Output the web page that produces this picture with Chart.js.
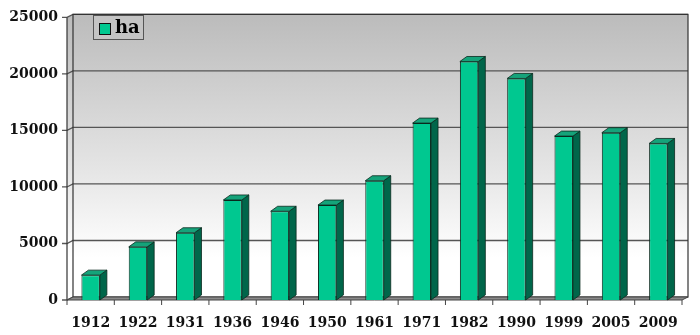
<!DOCTYPE html>
<html>
<head>
<meta charset="utf-8">
<script src="https://cdn.jsdelivr.net/npm/chart.js@4"></script>
<style>
    body { margin: 0; background: #fff; }
    #wrap { width: 700px; height: 335px; }
</style>
</head>
<body>
<div id="wrap"><canvas id="haChart"></canvas></div>
<script>
const years = ['1912', '1922', '1931', '1936', '1946', '1950', '1961', '1971', '1982', '1990', '1999', '2005', '2009'];
const hectares = [2200, 4700, 5950, 8850, 7850, 8400, 10550, 15650, 21100, 19600, 14500, 14800, 13850];
const yTicks = [0, 5000, 10000, 15000, 20000, 25000];

// depth of the 3D look
const wallDx = 6, wallDy = -3;
const barDx = 7, barDy = -5;

const labelFont = { family: 'DejaVu Serif', size: 14, weight: 'bold' };

const walls = {
    id: 'walls',
    beforeDatasetsDraw(chart) {
        const { ctx, chartArea: a, scales: { y } } = chart;
        const grad = ctx.createLinearGradient(0, a.top, 0, a.bottom);
        grad.addColorStop(0, '#bcbcbc');
        grad.addColorStop(0.55, '#e6e6e6');
        grad.addColorStop(0.85, '#ffffff');
        ctx.save();
        // back wall
        ctx.fillStyle = grad;
        ctx.fillRect(a.left + wallDx, a.top + wallDy, a.width, a.height);
        // side wall
        ctx.beginPath();
        ctx.moveTo(a.left, a.top);
        ctx.lineTo(a.left + wallDx, a.top + wallDy);
        ctx.lineTo(a.left + wallDx, a.bottom + wallDy);
        ctx.lineTo(a.left, a.bottom);
        ctx.closePath();
        ctx.fill();
        // gridlines
        ctx.strokeStyle = '#555';
        ctx.lineWidth = 1.3;
        yTicks.forEach(v => {
            const py = y.getPixelForValue(v);
            ctx.beginPath();
            ctx.moveTo(a.left - 5, py);
            ctx.lineTo(a.left, py);
            ctx.lineTo(a.left + wallDx, py + wallDy);
            if (v > 0) ctx.lineTo(a.right + wallDx, py + wallDy);
            ctx.stroke();
        });
        // wall outline
        ctx.strokeStyle = '#333';
        ctx.lineWidth = 1.2;
        ctx.strokeRect(a.left + wallDx, a.top + wallDy, a.width, a.height);
        ctx.beginPath();
        ctx.moveTo(a.left, a.top);
        ctx.lineTo(a.left, a.bottom);
        ctx.stroke();
        // floor
        ctx.fillStyle = '#8a8a8a';
        ctx.beginPath();
        ctx.moveTo(a.left, a.bottom);
        ctx.lineTo(a.left + wallDx, a.bottom + wallDy);
        ctx.lineTo(a.right + wallDx, a.bottom + wallDy);
        ctx.lineTo(a.right, a.bottom);
        ctx.closePath();
        ctx.fill();
        ctx.strokeStyle = '#444';
        ctx.lineWidth = 1;
        ctx.stroke();
        // category ticks under the floor
        const step = a.width / years.length;
        for (let i = 0; i <= years.length; i++) {
            const px = a.left + i * step;
            ctx.beginPath();
            ctx.moveTo(px, a.bottom);
            ctx.lineTo(px, a.bottom + 5);
            ctx.stroke();
        }
        ctx.restore();
    },
    afterDatasetsDraw(chart) {
        const { ctx } = chart;
        const meta = chart.getDatasetMeta(0);
        ctx.save();
        ctx.strokeStyle = '#0a2a1e';
        ctx.lineWidth = 0.8;
        meta.data.forEach(bar => {
            const { x, y, base, width } = bar.getProps(['x', 'y', 'base', 'width'], true);
            const l = x - width / 2, r = x + width / 2;
            // side face
            ctx.fillStyle = '#00664a';
            ctx.beginPath();
            ctx.moveTo(r, y);
            ctx.lineTo(r + barDx, y + barDy);
            ctx.lineTo(r + barDx, base + barDy);
            ctx.lineTo(r, base);
            ctx.closePath();
            ctx.fill();
            ctx.stroke();
            // top face
            ctx.fillStyle = '#15a37a';
            ctx.beginPath();
            ctx.moveTo(l, y);
            ctx.lineTo(l + barDx, y + barDy);
            ctx.lineTo(r + barDx, y + barDy);
            ctx.lineTo(r, y);
            ctx.closePath();
            ctx.fill();
            ctx.stroke();
        });
        // legend box
        const ds = chart.data.datasets[0];
        ctx.fillStyle = '#c4c4c4';
        ctx.strokeStyle = '#555';
        ctx.lineWidth = 1;
        ctx.fillRect(93, 15, 51, 25);
        ctx.strokeRect(93.5, 15.5, 50, 24);
        ctx.fillStyle = ds.backgroundColor;
        ctx.fillRect(99, 23, 12, 12);
        ctx.strokeStyle = '#111';
        ctx.strokeRect(99.5, 23.5, 11, 11);
        ctx.fillStyle = '#000';
        ctx.font = 'bold 18px "DejaVu Serif"';
        ctx.textBaseline = 'middle';
        ctx.fillText(ds.label, 115, 28);
        ctx.restore();
    }
};

new Chart(document.getElementById('haChart'), {
    type: 'bar',
    data: {
        labels: years,
        datasets: [{
            label: 'ha',
            data: hectares,
            backgroundColor: '#00c890',
            borderColor: '#0a2a1e',
            borderWidth: 1,
            categoryPercentage: 1,
            barPercentage: 0.39
        }]
    },
    options: {
        responsive: true,
        maintainAspectRatio: false,
        animation: false,
        layout: { padding: { top: 15, right: 18, bottom: 0, left: 0 } },
        plugins: {
            legend: { display: false },
            tooltip: { enabled: false }
        },
        scales: {
            x: {
                grid: { display: false, drawTicks: false },
                border: { display: false },
                ticks: { color: '#111', font: labelFont, padding: 15, maxRotation: 0 },
                afterFit(scale) { scale.height = 35; }
            },
            y: {
                min: 0,
                max: 25000,
                grid: { display: false, drawTicks: false },
                border: { display: false },
                ticks: {
                    stepSize: 5000, color: '#111', font: labelFont, padding: 9,
                    callback: v => String(v)
                },
                afterFit(scale) { scale.width = 67; }
            }
        }
    },
    plugins: [walls]
});
</script>
</body>
</html>
